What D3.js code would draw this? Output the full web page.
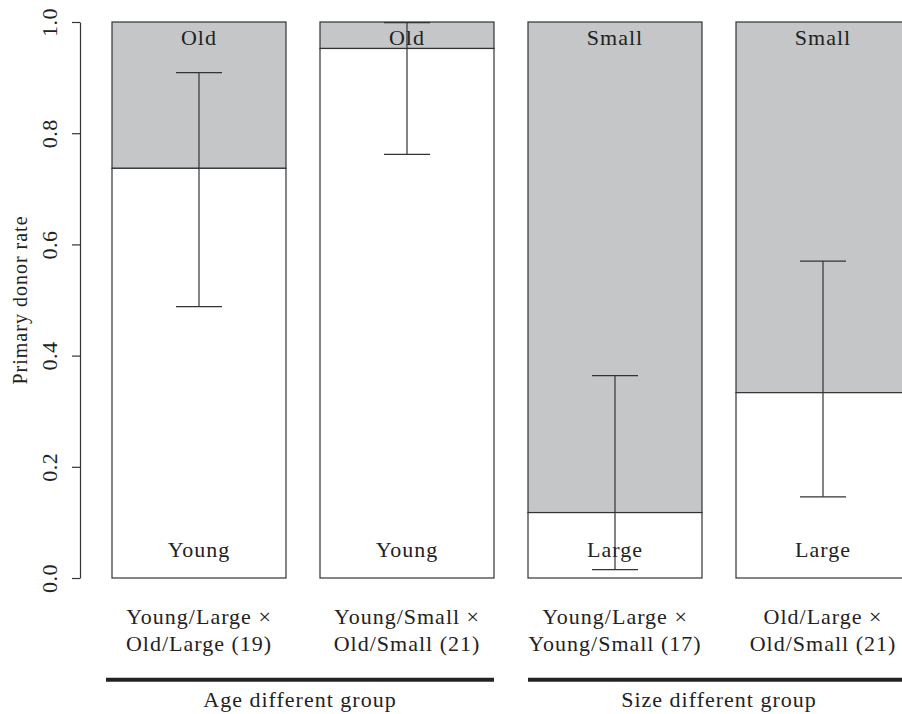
<!DOCTYPE html>
<html>
<head>
<meta charset="utf-8">
<script src="https://cdn.jsdelivr.net/npm/d3@7"></script>
<style>
  body { margin: 0; background: #fff; }
  svg text { font-family: 'Liberation Serif'; fill: #222; }
</style>
</head>
<body>
<div id="chart"></div>
<script>
// data
const pairs = ["YL_OL", "YS_OS", "YL_YS", "OL_OS"];
const pairLine1 = ["Young/Large ×", "Young/Small ×", "Young/Large ×", "Old/Large ×"];
const pairLine2 = ["Old/Large", "Old/Small", "Young/Small", "Old/Small"];
const pairN = [19, 21, 17, 21];
const rate = [14 / 19, 20 / 21, 2 / 17, 7 / 21];
const ciLow = [0.488, 0.762, 0.015, 0.146];
const ciHigh = [0.909, 0.999, 0.364, 0.570];
const lowerLabel = ["Young", "Young", "Large", "Large"];
const upperLabel = ["Old", "Old", "Small", "Small"];
const groupNames = ["Age different group", "Size different group"];
const groupMembers = [["YL_OL", "YS_OS"], ["YL_YS", "OL_OS"]];
const yTicks = [0, 0.2, 0.4, 0.6, 0.8, 1.0];

const width = 902, height = 714;
const labelSize = "22px", labelSpacing = "1px";

const svg = d3.select("#chart").append("svg")
    .attr("width", width)
    .attr("height", height)
    .attr("font-family", "'Liberation Serif'");

const x = d3.scaleBand()
    .domain(pairs)
    .range([112, 910])
    .paddingInner(0.1635)
    .paddingOuter(0);

const y = d3.scaleLinear()
    .domain([0, 1])
    .range([578, 22]);

const rows = pairs.map((p, i) => ({
    key: p, rate: rate[i], lo: ciLow[i], hi: ciHigh[i],
    lower: lowerLabel[i], upper: upperLabel[i],
    l1: pairLine1[i], l2: pairLine2[i], n: pairN[i]
}));

// y axis
const yAxis = d3.axisLeft(y)
    .tickValues(yTicks)
    .tickSize(8)
    .tickSizeOuter(0)
    .tickFormat(d3.format(".1f"));

const yAxisG = svg.append("g")
    .attr("transform", "translate(80,0)")
    .call(yAxis)
    .attr("font-family", "'Liberation Serif'");
yAxisG.select(".domain").attr("stroke", "#333").attr("stroke-width", 1.2);
yAxisG.selectAll(".tick line").attr("stroke", "#333").attr("stroke-width", 1.2);
yAxisG.selectAll(".tick text")
    .attr("x", 0).attr("dy", 0)
    .attr("transform", "translate(-23,0) rotate(-90)")
    .attr("text-anchor", "middle")
    .style("font-size", "22px")
    .style("letter-spacing", "0.5px")
    .attr("fill", "#222");

svg.append("text")
    .attr("transform", `translate(27,${(y(0) + y(1)) / 2}) rotate(-90)`)
    .attr("text-anchor", "middle")
    .style("font-size", "20px")
    .style("letter-spacing", "1px")
    .text("Primary donor rate");

// bars: lower (white) part and upper (grey) part
const bar = svg.selectAll(".bar")
    .data(rows)
    .join("g")
    .attr("class", "bar");

bar.append("rect")
    .attr("x", d => x(d.key))
    .attr("y", y(1))
    .attr("width", x.bandwidth())
    .attr("height", d => y(d.rate) - y(1))
    .attr("fill", "#c5c6c8")
    .attr("stroke", "#333")
    .attr("stroke-width", 1.2);

bar.append("rect")
    .attr("x", d => x(d.key))
    .attr("y", d => y(d.rate))
    .attr("width", x.bandwidth())
    .attr("height", d => y(0) - y(d.rate))
    .attr("fill", "#fff")
    .attr("stroke", "#333")
    .attr("stroke-width", 1.2);

bar.append("text")
    .attr("x", d => x(d.key) + x.bandwidth() / 2)
    .attr("y", y(1) + 23)
    .attr("text-anchor", "middle")
    .style("font-size", labelSize)
    .style("letter-spacing", labelSpacing)
    .text(d => d.upper);

bar.append("text")
    .attr("x", d => x(d.key) + x.bandwidth() / 2)
    .attr("y", y(0) - 21)
    .attr("text-anchor", "middle")
    .style("font-size", labelSize)
    .style("letter-spacing", labelSpacing)
    .text(d => d.lower);

// error bars
const capW = 46;
const err = svg.selectAll(".err")
    .data(rows)
    .join("g")
    .attr("class", "err")
    .attr("stroke", "#333")
    .attr("stroke-width", 1.2);

err.append("line")
    .attr("x1", d => x(d.key) + x.bandwidth() / 2)
    .attr("x2", d => x(d.key) + x.bandwidth() / 2)
    .attr("y1", d => y(d.lo))
    .attr("y2", d => y(d.hi));

err.append("line")
    .attr("x1", d => x(d.key) + x.bandwidth() / 2 - capW / 2)
    .attr("x2", d => x(d.key) + x.bandwidth() / 2 + capW / 2)
    .attr("y1", d => y(d.lo))
    .attr("y2", d => y(d.lo));

err.append("line")
    .attr("x1", d => x(d.key) + x.bandwidth() / 2 - capW / 2)
    .attr("x2", d => x(d.key) + x.bandwidth() / 2 + capW / 2)
    .attr("y1", d => y(d.hi))
    .attr("y2", d => y(d.hi));

// category labels under the bars
const cat = svg.selectAll(".cat")
    .data(rows)
    .join("text")
    .attr("class", "cat")
    .attr("text-anchor", "middle")
    .style("font-size", labelSize)
    .style("letter-spacing", labelSpacing);

cat.append("tspan")
    .attr("x", d => x(d.key) + x.bandwidth() / 2)
    .attr("y", 624)
    .text(d => d.l1);

cat.append("tspan")
    .attr("x", d => x(d.key) + x.bandwidth() / 2)
    .attr("y", 651)
    .text(d => `${d.l2} (${d.n})`);

// group underlines + names
groupMembers.forEach((m, i) => {
    const x0 = x(m[0]) - (i === 0 ? 6 : 0);
    const x1 = x(m[m.length - 1]) + x.bandwidth();
    svg.append("line")
        .attr("x1", x0).attr("x2", x1)
        .attr("y1", 679.7).attr("y2", 679.7)
        .attr("stroke", "#222")
        .attr("stroke-width", 4);
    svg.append("text")
        .attr("x", (x0 + x1) / 2)
        .attr("y", 707)
        .attr("text-anchor", "middle")
        .style("font-size", labelSize)
        .style("letter-spacing", labelSpacing)
        .text(groupNames[i]);
});
</script>
</body>
</html>
